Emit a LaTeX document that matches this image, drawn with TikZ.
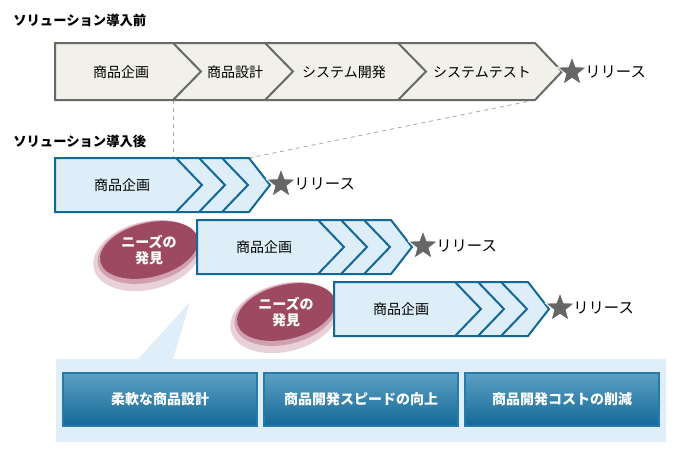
\documentclass[tikz,border=0pt]{standalone}
\usepackage{fontspec}
\setmainfont{Noto Sans CJK JP}
\usetikzlibrary{shapes.geometric}

\definecolor{barfill}{RGB}{241,240,233}
\definecolor{bargray}{RGB}{105,105,105}
\definecolor{rowfill}{RGB}{221,238,249}
\definecolor{rowblue}{RGB}{19,104,150}
\definecolor{needsred}{RGB}{157,73,97}
\definecolor{needsmid}{RGB}{208,160,177}
\definecolor{needslight}{RGB}{233,209,217}
\definecolor{panelfill}{RGB}{223,238,249}
\definecolor{btntop}{RGB}{92,160,195}
\definecolor{btnbot}{RGB}{20,104,152}
\definecolor{btnline}{RGB}{40,122,168}
\definecolor{stargray}{RGB}{102,102,102}

\begin{document}
\begin{tikzpicture}[x=0.75pt, y=-0.75pt, line join=miter,
  every node/.style={inner sep=0pt},
  title/.style={font=\bfseries\fontsize{10}{12}\selectfont, anchor=west},
  phase/.style={font=\fontsize{10.5}{12}\selectfont},
  release/.style={font=\fontsize{11.5}{13}\selectfont, anchor=west},
  relstar/.style={star, star points=5, star point ratio=2.4, minimum size=23pt,
    fill=stargray, draw=white, line width=0.6pt},
  needs/.style={font=\bfseries\fontsize{10.5}{11.5}\selectfont, text=white, align=center},
  effect/.style={draw=btnline, line width=1pt, top color=btntop, bottom color=btnbot,
    minimum width=145.5pt, minimum height=39.75pt, text=white,
    font=\bfseries\fontsize{10.5}{12}\selectfont}]

\useasboundingbox (0,0) rectangle (678,451);

% titles
\node[title] (before) at (13,20) {ソリューション導入前};
\node[title] (after) at (13,141) {ソリューション導入後};

% guide lines
\coordinate (b1) at (173,100);
\coordinate (b2) at (535,100);
\coordinate (a1) at (173,158);
\coordinate (a2) at (249,158);
\draw[gray!70, dashed, line width=0.6pt] (b1) -- (a1);
\draw[gray!70, dashed, line width=0.6pt] (b2) -- (a2);

% before: one long process
\fill[barfill] (55,43) -- (535,43) -- (562,71.5) -- (535,100) -- (55,100) -- cycle;
\draw[bargray, line width=1.5pt] (55,43) -- (535,43) -- (562,71.5) -- (535,100) -- (55,100) -- cycle;
\foreach \x in {173,265,398}
  \draw[bargray, line width=1.5pt] (\x,43) -- (\x+28,71.5) -- (\x,100);

\node[phase] (p1) at (121,72) {商品企画};
\node[phase] (p2) at (235,72) {商品設計};
\node[phase] (p3) at (344,72) {システム開発};
\node[phase] (p4) at (482,72) {システムテスト};
\node[relstar] (star0) at (572,72) {};
\node[release] (rel0) at (585,72) {リリース};

% callout panel
\fill[panelfill] (190,302) -- (173,359) -- (138,359) -- cycle;
\fill[panelfill] (56,359) rectangle (666,442);

% needs ovals
\foreach \L/\T/\n in {197/220/2, 334/282/3} {
  \coordinate (nc\n) at (\L-48,\T+30);
  \fill[needslight, rotate around={14:(nc\n)}] ([shift={(-3,5)}]nc\n) ellipse [x radius=55, y radius=34];
  \fill[needsmid, rotate around={14:(nc\n)}] ([shift={(-1,2)}]nc\n) ellipse [x radius=52, y radius=30];
  \fill[needsred, rotate around={14:(nc\n)}] (nc\n) ellipse [x radius=50, y radius=27];
  \node[needs] (need\n) at (nc\n) {ニーズの\\発見};
}

% after: short cycles
\foreach \L/\T/\n in {55/158/1, 197/220/2, 334/282/3} {
  \fill[rowfill] (\L,\T) -- (\L+194,\T) -- (\L+215,\T+27) -- (\L+194,\T+54) -- (\L,\T+54) -- cycle;
  \foreach \d in {147,170,193}
    \draw[rowblue, line width=1.5pt] (\L+\d-26,\T) -- (\L+\d,\T+27) -- (\L+\d-26,\T+54);
  \draw[rowblue, line width=1.5pt] (\L,\T) -- (\L+194,\T) -- (\L+215,\T+27) -- (\L+194,\T+54) -- (\L,\T+54) -- cycle;
  \node[phase] (plan\n) at (\L+67,\T+27) {商品企画};
  \node[relstar] (star\n) at (\L+226,\T+26) {};
  \node[release] (rel\n) at (\L+239,\T+26) {リリース};
}

% effects
\node[effect] (e1) at (160,399.5) {柔軟な商品設計};
\node[effect] (e2) at (361,399.5) {商品開発スピードの向上};
\node[effect] (e3) at (562,399.5) {商品開発コストの削減};

\end{tikzpicture}
\end{document}
